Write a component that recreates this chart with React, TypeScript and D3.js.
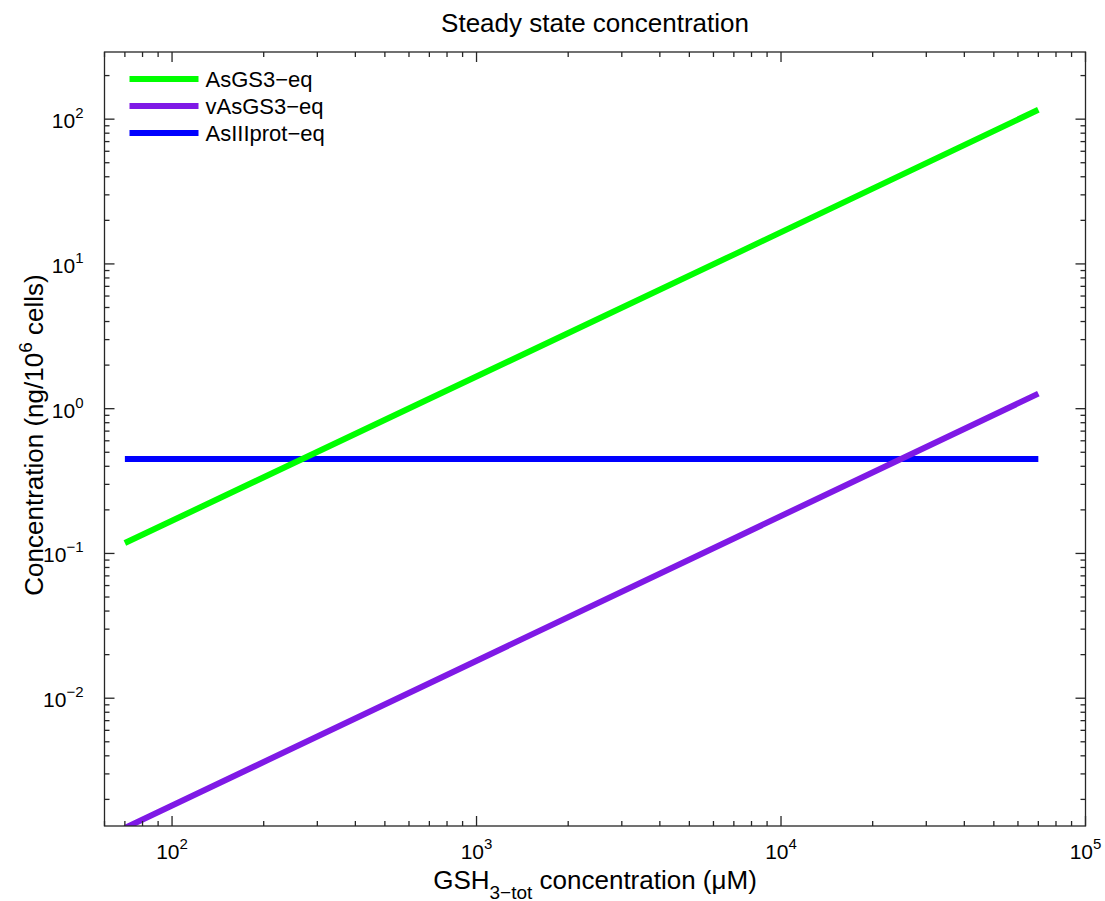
import * as d3 from 'd3';
import React, { useRef, useEffect } from 'react';

// values (log-log)
const gshConc = [70, 700, 7000, 70000];
const asgs3Eq = [0.118, 1.17, 11.6, 116];
const vAsgs3Eq = [0.00127, 0.0127, 0.127, 1.27];
const asIIIprotEq = [0.45, 0.45, 0.45, 0.45];

const seriesNames = ['AsGS3\u2212eq', 'vAsGS3\u2212eq', 'AsIIIprot\u2212eq'];
const seriesColors = ['#00ff00', '#7f19e6', '#0000ff'];

const xDomain = [60, 100000];
const yDomain = [0.00131, 291];

const FONT = '"Liberation Sans", Arial, Helvetica, sans-serif';

const App = () => {
  const ref = useRef(null);

  const W = 1105, H = 901;
  const margin = { top: 52, right: 19.5, bottom: 75, left: 104.5 };
  const width = W - margin.left - margin.right;
  const height = H - margin.top - margin.bottom;

  useEffect(() => {
    draw();
  });

  const draw = () => {
    const svg = d3.select(ref.current);
    svg.selectAll('*').remove();

    const x = d3.scaleLog().domain(xDomain).range([0, width]);
    const y = d3.scaleLog().domain(yDomain).range([height, 0]);

    const g = svg.append('g')
      .attr('transform', 'translate(' + margin.left + ',' + margin.top + ')');

    g.append('defs').append('clipPath').attr('id', 'plotclip')
      .append('rect').attr('width', width).attr('height', height);

    // data lines (blue first, like the original draw order)
    const line = d3.line<number>()
      .x((d, i) => x(gshConc[i]))
      .y((d) => y(d));

    const series = [asgs3Eq, vAsgs3Eq, asIIIprotEq];
    [2, 0, 1].forEach((k) => {
      g.append('path')
        .datum(series[k])
        .attr('clip-path', 'url(#plotclip)')
        .attr('fill', 'none')
        .attr('stroke', seriesColors[k])
        .attr('stroke-width', 6)
        .attr('d', line);
    });

    // box
    const axisColor = '#262626';
    g.append('rect')
      .attr('width', width).attr('height', height)
      .attr('fill', 'none').attr('stroke', axisColor).attr('stroke-width', 1.3);

    const isMajor = (v) => Math.abs(Math.log10(v) - Math.round(Math.log10(v))) < 1e-9;

    // x ticks, bottom + top, pointing inward
    x.ticks().forEach((t) => {
      const len = isMajor(t) ? 10 : 5;
      const px = x(t);
      g.append('line').attr('x1', px).attr('x2', px).attr('y1', height).attr('y2', height - len)
        .attr('stroke', axisColor).attr('stroke-width', 1.3);
      g.append('line').attr('x1', px).attr('x2', px).attr('y1', 0).attr('y2', len)
        .attr('stroke', axisColor).attr('stroke-width', 1.3);
      if (isMajor(t)) {
        const lab = g.append('text')
          .attr('x', px).attr('y', height + 33)
          .attr('text-anchor', 'middle')
          .style('font-family', FONT).style('font-size', '21px').attr('fill', '#000');
        lab.append('tspan').text('10');
        lab.append('tspan').attr('dy', -10).style('font-size', '15px').text(String(Math.round(Math.log10(t))));
      }
    });

    // y ticks, left + right
    y.ticks().forEach((t) => {
      const len = isMajor(t) ? 10 : 5;
      const py = y(t);
      g.append('line').attr('x1', 0).attr('x2', len).attr('y1', py).attr('y2', py)
        .attr('stroke', axisColor).attr('stroke-width', 1.3);
      g.append('line').attr('x1', width).attr('x2', width - len).attr('y1', py).attr('y2', py)
        .attr('stroke', axisColor).attr('stroke-width', 1.3);
      if (isMajor(t)) {
        const e = Math.round(Math.log10(t));
        const lab = g.append('text')
          .attr('x', -21).attr('y', py + 9)
          .attr('text-anchor', 'end')
          .style('font-family', FONT).style('font-size', '21px').attr('fill', '#000');
        lab.append('tspan').text('10');
        lab.append('tspan').attr('dy', -10).style('font-size', '15px')
          .text(e < 0 ? '\u2212' + Math.abs(e) : String(e));
      }
    });

    // title
    svg.append('text')
      .attr('x', margin.left + width / 2).attr('y', 32)
      .attr('text-anchor', 'middle')
      .style('font-family', FONT).style('font-size', '26px')
      .text('Steady state concentration');

    // x label with subscript
    const xl = svg.append('text')
      .attr('x', margin.left + width / 2).attr('y', 889)
      .attr('text-anchor', 'middle')
      .style('font-family', FONT).style('font-size', '26px');
    xl.append('tspan').text('GSH');
    xl.append('tspan').attr('dy', 10).style('font-size', '19px').text('3\u2212tot');
    xl.append('tspan').attr('dy', -10).text(' concentration (\u03bcM)');

    // y label with superscript
    const yl = svg.append('text')
      .attr('transform', 'translate(43,' + (margin.top + height / 2 - 4) + ') rotate(-90)')
      .attr('text-anchor', 'middle')
      .style('font-family', FONT).style('font-size', '26px');
    yl.append('tspan').text('Concentration (ng/10');
    yl.append('tspan').attr('dy', -11).style('font-size', '19px').text('6');
    yl.append('tspan').attr('dy', 11).text(' cells)');

    // handmade legend
    seriesNames.forEach((name, i) => {
      const ly = 27 + i * 27;
      g.append('line').attr('x1', 25).attr('x2', 94).attr('y1', ly).attr('y2', ly)
        .attr('stroke', seriesColors[i]).attr('stroke-width', 6);
      g.append('text').attr('x', 101).attr('y', ly + 8)
        .style('font-family', FONT).style('font-size', '22px')
        .text(name);
    });
  };

  return (
    <div style={{ position: 'absolute', left: 0, top: 0 }}>
      <svg ref={ref} width={W} height={H} style={{ display: 'block', background: '#fff' }}></svg>
    </div>
  );
};

export default App;
